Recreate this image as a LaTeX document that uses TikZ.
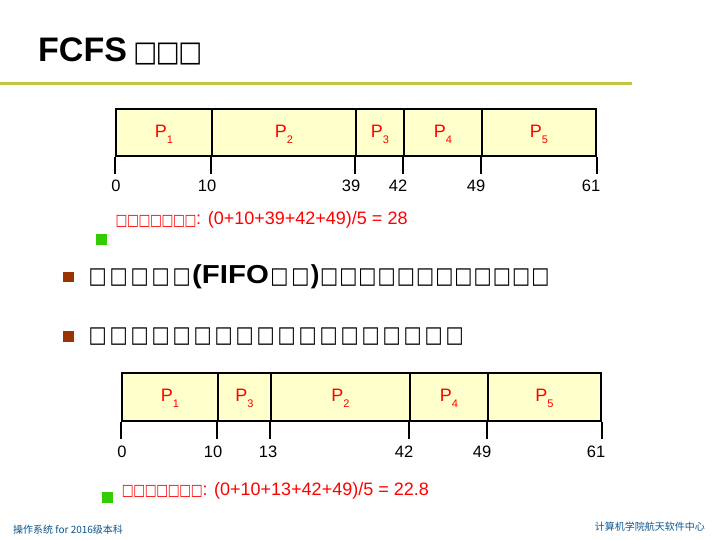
\documentclass[tikz,border=0pt]{standalone}
\usepackage{fontspec}
\setmainfont{Liberation Sans}
\newfontfamily\cjk{Noto Sans CJK SC}
\newfontfamily\symf{DejaVu Sans}
\definecolor{linegreen}{RGB}{196,196,64}
\definecolor{cellfill}{RGB}{255,255,204}
\definecolor{redtxt}{RGB}{255,0,0}
\definecolor{greenb}{RGB}{51,204,0}
\definecolor{brownb}{RGB}{153,51,0}
\definecolor{footblue}{RGB}{10,85,140}
% a missing-glyph box: pitch, x-scale, ink height
\newcommand\tofu[3]{\makebox[#1][c]{\scalebox{#2}[1]{\resizebox*{!}{#3}{\symf □}}}}
\newcommand\tA{\tofu{22.5pt}{0.88}{22pt}}
\newcommand\tBa{\tofu{21pt}{0.84}{17.5pt}}
\newcommand\tBc{\tofu{19.2pt}{0.84}{17.5pt}}
\newcommand\tBb{\tofu{21pt}{0.84}{17.5pt}}
\newcommand\tC{\tofu{11.5pt}{0.8}{12pt}}
\newcommand\fs[1]{\fontsize{#1}{#1}\selectfont}
\newcommand\pl[1]{\fs{18}P\raisebox{-6.5pt}{\fs{11}#1}}
\tikzset{
  cell/.style={draw=black, line width=2pt, fill=cellfill, inner sep=0pt, anchor=north west, minimum height=47.5pt},
  plab/.style={text=redtxt, anchor=base, inner sep=0pt},
  tick/.style={draw=black, line width=2pt},
  tlab/.style={anchor=base, inner sep=0pt, font=\fs{16.5}},
  redline/.style={anchor=base west, inner sep=0pt, text=redtxt, font=\fs{18}},
  gbul/.style={fill=greenb, draw=none, inner sep=0pt, minimum width=11pt, minimum height=11pt, anchor=north west},
  bbul/.style={fill=brownb, draw=none, inner sep=0pt, minimum width=11pt, minimum height=10.5pt, anchor=north west},
  bline/.style={anchor=base west, inner sep=0pt, font=\fs{25}},
  foot/.style={inner sep=0pt, text=footblue, font=\cjk\fs{10}}
}
\begin{document}
\begin{tikzpicture}[x=1pt,y=-1pt]
\useasboundingbox (0,0) rectangle (720,540);
\fill[white] (0,0) rectangle (720,540);
% title
\node[anchor=base west, inner sep=0pt, font=\fs{34}\bfseries] (title) at (38,62) {FCFS\hspace{7pt}\tA\tA\tA};
\draw[linegreen, line width=3pt] (0,83.5) -- (632,83.5);
% top gantt
\node[cell, minimum width=96pt] (a1) at (115,108) {};
\node[cell, minimum width=144pt] (a2) at (211,108) {};
\node[cell, minimum width=48pt] (a3) at (355,108) {};
\node[cell, minimum width=78pt] (a4) at (403,108) {};
\node[cell, minimum width=114pt] (a5) at (481,108) {};
\foreach \n/\l in {a1/1,a2/2,a3/3,a4/4,a5/5}
  \node[plab] (p\n) at ([yshift=-4.5pt]\n.center) {\pl{\l}};
\foreach \n in {a1,a2,a3,a4,a5}
  \draw[tick] (\n.south west) -- ++(0,17);
\draw[tick] (a5.south east) -- ++(0,17);
\node[tlab] (ta0) at (116,192) {0};
\node[tlab] (ta1) at (207,192) {10};
\node[tlab] (ta2) at (351,192) {39};
\node[tlab] (ta3) at (398,192) {42};
\node[tlab] (ta4) at (476,192) {49};
\node[tlab] (ta5) at (591,192) {61};
\node[redline] (avg1) at (115.5,225) {\tC\tC\tC\tC\tC\tC\tC: (0+10+39+42+49)/5 = 28};
\node[gbul] (g1) at (96,234) {};
% bullets
\node[bbul] (b1) at (63,271.5) {};
\node[bline] (l1) at (87,283) {\tBa\tBa\tBa\tBa\tBa\scalebox{1.13}[1]{\fs{26}\bfseries(FIFO}\tBa\tBa{\fs{26}\bfseries)}\tBc\tBc\tBc\tBc\tBc\tBc\tBc\tBc\tBc\tBc\tBc\tBc};
\node[bbul] (b2) at (63,331) {};
\node[bline] (l2) at (87,342) {\tBb\tBb\tBb\tBb\tBb\tBb\tBb\tBb\tBb\tBb\tBb\tBb\tBb\tBb\tBb\tBb\tBb\tBb};
% bottom gantt
\node[cell, minimum width=96pt] (c1) at (121,372) {};
\node[cell, minimum width=53pt] (c2) at (217,372) {};
\node[cell, minimum width=139pt] (c3) at (270,372) {};
\node[cell, minimum width=78pt] (c4) at (409,372) {};
\node[cell, minimum width=113pt] (c5) at (487,372) {};
\foreach \n/\l in {c1/1,c2/3,c3/2,c4/4,c5/5}
  \node[plab] (p\n) at ([yshift=-4.5pt]\n.center) {\pl{\l}};
\foreach \n in {c1,c2,c3,c4,c5}
  \draw[tick] (\n.south west) -- ++(0,17);
\draw[tick] (c5.south east) -- ++(0,17);
\node[tlab] (tc0) at (122,457) {0};
\node[tlab] (tc1) at (213,457) {10};
\node[tlab] (tc2) at (268,457) {13};
\node[tlab] (tc3) at (404,457) {42};
\node[tlab] (tc4) at (482,457) {49};
\node[tlab] (tc5) at (596,457) {61};
\node[redline] (avg2) at (121.8,495) {\tC\tC\tC\tC\tC\tC\tC: (0+10+13+42+49)/5 = 22.8};
\node[gbul] (g2) at (102,492) {};
% footer
\node[foot, anchor=base west] (fl) at (13,533) {操作系统 for 2016级本科};
\node[foot, anchor=base east] (fr) at (705,530) {计算机学院航天软件中心};
\end{tikzpicture}
\end{document}
